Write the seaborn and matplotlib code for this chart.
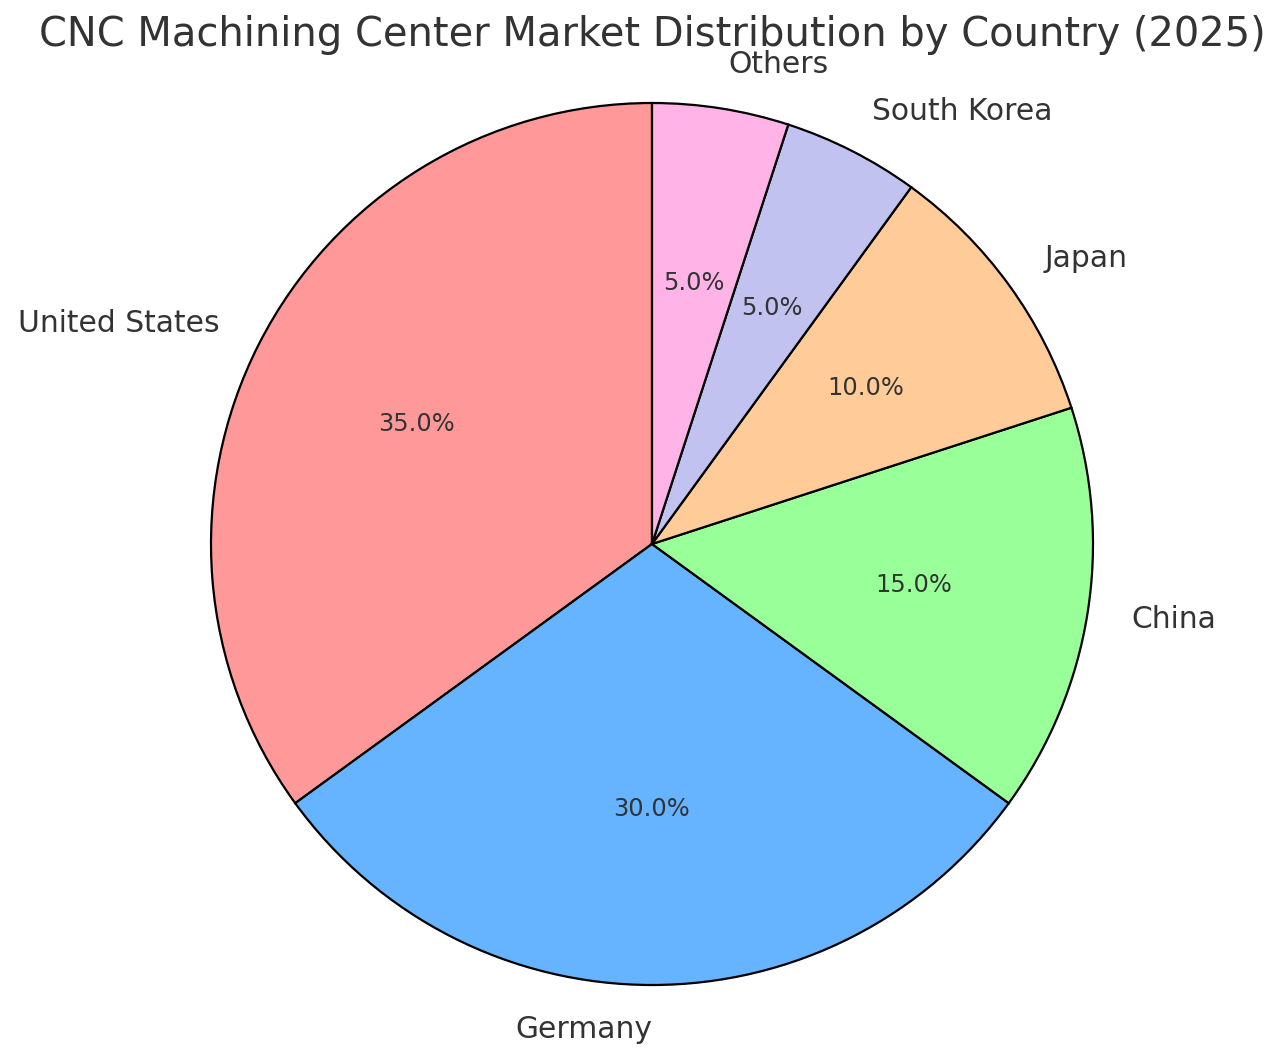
import matplotlib
matplotlib.use("Agg")
import matplotlib.pyplot as plt
import seaborn as sns

# market share data
countries = ["United States", "Germany", "China", "Japan", "South Korea", "Others"]
shares = [35, 30, 15, 10, 5, 5]
colors = ["#ff9999", "#66b3ff", "#99ff99", "#ffcc99", "#c2c2f0", "#ffb3e6"]

sns.set_style("white")
plt.rcParams["font.family"] = ["DejaVu Sans"]

fig = plt.figure(figsize=(12.8, 10.62), dpi=100)
# axes placed so the pie sits where the reference has it
ax = fig.add_axes([211 / 1280, 77 / 1062, 882 / 1280, 882 / 1062])

wedges, texts, autotexts = ax.pie(
    shares,
    labels=countries,
    colors=colors,
    autopct="%1.1f%%",
    startangle=90,
    wedgeprops={"edgecolor": "black", "linewidth": 1.6},
    textprops={"fontsize": 21.4, "color": "#333333"},
)
for t in autotexts:
    t.set_fontsize(17.4)
# Germany label sits right-aligned on the vertical in the reference
texts[1].set_ha("right")

ax.set_xlim(-1, 1)
ax.set_ylim(-1, 1)
ax.set_aspect("equal")

fig.text(652 / 1280, 1 - 35 / 1062, "CNC Machining Center Market Distribution by Country (2025)",
         ha="center", va="center", fontsize=28.8, color="#333333")

fig.savefig("out.png", dpi=100)
plt.close()
